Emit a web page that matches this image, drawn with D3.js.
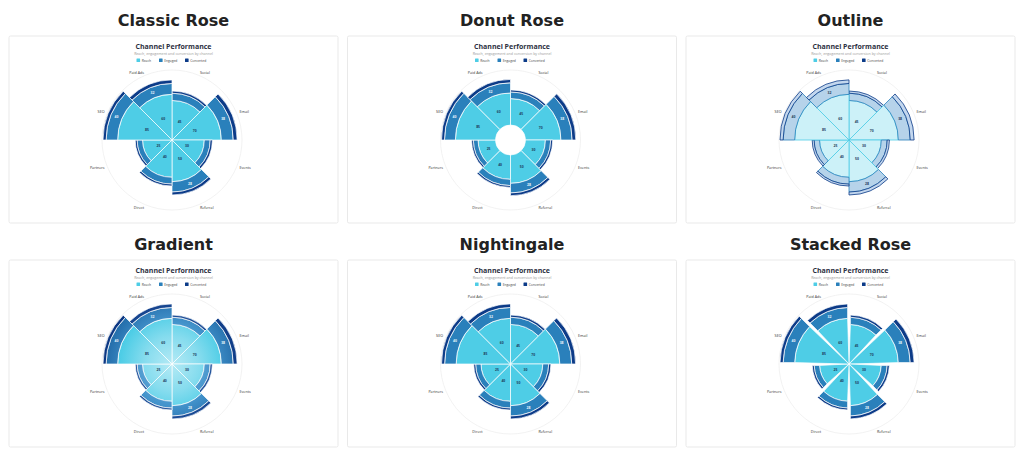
<!DOCTYPE html>
<html>
<head>
<meta charset="utf-8">
<script src="https://cdn.jsdelivr.net/npm/d3@7/dist/d3.min.js"></script>
<style>
  body { margin: 0; background: #fff; }
  svg { display: block; }
</style>
</head>
<body>
<div id="chart"></div>
<script>
// Chart data
const categories = ["Social", "Email", "Events", "Referral", "Direct", "Partners", "SEO", "Paid Ads"];
const reach = [45, 70, 30, 50, 40, 25, 85, 60];
const engaged = [18, 38, 12, 28, 16, 10, 40, 32];
const converted = [6, 14, 5, 9, 5, 4, 12, 12];
const seriesNames = ["Reach", "Engaged", "Converted"];
const panelTitles = ["Classic Rose", "Donut Rose", "Outline", "Gradient", "Nightingale", "Stacked Rose"];

const colors = ["#4ecde6", "#2a80bb", "#0c3b88"];
const outlineFill = ["#ccf1f8", "#b6d3ea", "#c3d7ee"];

const width = 1024, height = 457;
const svg = d3.select("#chart").append("svg")
    .attr("width", width)
    .attr("height", height);
const defs = svg.append("defs");

// stack the three series per category
const rows = categories.map((c, i) => ({cat: c, vals: [reach[i], engaged[i], converted[i]]}));
rows.forEach(d => {
    let acc = 0;
    d.layers = d.vals.map((v, k) => {
        const l = {k: k, v: v, y0: acc, y1: acc + v};
        acc += v;
        return l;
    });
    d.total = acc;
});
const maxTotal = d3.max(rows, d => d.total);

const x = d3.scaleBand()
    .domain(categories)
    .range([0, 2 * Math.PI]);

const cardW = 329, cardH = 187;

panelTitles.forEach((title, p) => {
    const col = p % 3, row = Math.floor(p / 3);
    const left = 9 + col * 338.5;
    const top = 36 + row * 224;
    const cx = left + cardW / 2;
    const chartX = cardW / 2 - 1.5, chartY = 104;

    // panel heading
    svg.append("text")
        .attr("x", cx)
        .attr("y", top - 10)
        .attr("text-anchor", "middle")
        .attr("font-family", "DejaVu Sans")
        .attr("font-weight", "bold")
        .attr("font-size", 16)
        .attr("fill", "#222")
        .text(title);

    const card = svg.append("g").attr("transform", "translate(" + left + "," + top + ")");
    card.append("rect")
        .attr("width", cardW)
        .attr("height", cardH)
        .attr("fill", "#fff")
        .attr("stroke", "#e3e3e3")
        .attr("stroke-width", 0.8)
        .attr("rx", 1.5);

    card.append("text")
        .attr("x", cardW / 2)
        .attr("y", 12.5)
        .attr("text-anchor", "middle")
        .attr("font-family", "Open Sans")
        .attr("font-weight", "bold")
        .attr("font-size", 7)
        .attr("fill", "#2d3142")
        .text("Channel Performance");

    card.append("text")
        .attr("x", cardW / 2)
        .attr("y", 19)
        .attr("text-anchor", "middle")
        .attr("font-family", "Open Sans")
        .attr("font-size", 3.6)
        .attr("fill", "#9a9a9a")
        .text("Reach, engagement and conversion by channel");

    // legend
    const legendX = [-37, -14.5, 11.5];
    seriesNames.forEach((s, k) => {
        const lg = card.append("g")
            .attr("transform", "translate(" + (cardW / 2 + legendX[k]) + ",22.5)");
        lg.append("rect")
            .attr("width", 3.6)
            .attr("height", 3.6)
            .attr("rx", 0.5)
            .attr("fill", colors[k]);
        lg.append("text")
            .attr("x", 5.2)
            .attr("y", 3)
            .attr("font-family", "Open Sans")
            .attr("font-size", 3.3)
            .attr("fill", "#444")
            .text(s);
    });

    const inner = title === "Donut Rose" ? 15 : 0;
    const outer = 69;
    const y = d3.scaleRadial()
        .domain([0, maxTotal])
        .range([inner, outer]);

    const g = card.append("g")
        .attr("transform", "translate(" + chartX + "," + chartY + ")");

    // grid circle
    g.append("circle")
        .attr("r", outer + 1)
        .attr("fill", "none")
        .attr("stroke", "#ececec")
        .attr("stroke-width", 0.7);

    // gradients for the gradient panel (user space of the chart group)
    if (title === "Gradient") {
        const stops = [
            [["0", "#b4eaf5"], ["0.4", "#86dcee"], ["0.75", "#4ecde6"], ["1", "#44c4de"]],
            [["0", "#7fb9e0"], ["0.6", "#4494cc"], ["1", "#1f68a6"]],
            [["0", "#3a6cb0"], ["0.8", "#1a4a94"], ["1", "#0a3581"]]
        ];
        stops.forEach((st, k) => {
            const grad = defs.append("radialGradient")
                .attr("id", "grad" + k)
                .attr("gradientUnits", "userSpaceOnUse")
                .attr("cx", 0)
                .attr("cy", 0)
                .attr("r", outer);
            st.forEach(s => grad.append("stop").attr("offset", s[0]).attr("stop-color", s[1]));
        });
    }

    const arc = d3.arc()
        .innerRadius(d => y(d.y0))
        .outerRadius(d => y(d.y1))
        .startAngle(d => x(d.cat))
        .endAngle(d => x(d.cat) + x.bandwidth());
    if (title === "Stacked Rose") arc.padAngle(0.04).padRadius(outer);

    const layerData = [];
    rows.forEach(d => d.layers.forEach(l => layerData.push(Object.assign({cat: d.cat}, l))));

    g.selectAll("path.seg")
        .data(layerData)
        .enter()
        .append("path")
        .attr("class", "seg")
        .attr("d", arc)
        .attr("fill", d => {
            if (title === "Outline") return outlineFill[d.k];
            if (title === "Gradient") return "url(#grad" + d.k + ")";
            return colors[d.k];
        })
        .attr("stroke", d => title === "Outline" ? colors[d.k] : "#fff")
        .attr("stroke-width", d => title === "Outline" ? 0.8 : 0.7)
        .attr("stroke-linejoin", "round");

    // value labels for reach and engaged
    const mid = d => x(d.cat) + x.bandwidth() / 2;
    g.selectAll("text.val")
        .data(layerData.filter(d => d.k < 2 && (d.k === 0 || y(d.y1) - y(d.y0) > 8)))
        .enter()
        .append("text")
        .attr("class", "val")
        .attr("transform", d => {
            const rr = (y(d.y0) + y(d.y1)) / 2;
            return "translate(" + (Math.sin(mid(d)) * rr) + "," + (-Math.cos(mid(d)) * rr) + ")";
        })
        .attr("text-anchor", "middle")
        .attr("dy", "0.35em")
        .attr("font-family", "Open Sans")
        .attr("font-weight", "bold")
        .attr("font-size", 3.4)
        .attr("fill", d => d.k === 0 ? "#1d3b5c" : (title === "Outline" ? "#1d3b5c" : "#e8f4fb"))
        .text(d => d.v);

    // category labels
    const labelAngle = c => x(c) + x.bandwidth() / 2;
    g.selectAll("text.cat")
        .data(categories)
        .enter()
        .append("text")
        .attr("class", "cat")
        .attr("x", c => Math.sin(labelAngle(c)) * 73)
        .attr("y", c => -Math.cos(labelAngle(c)) * 73)
        .attr("text-anchor", c => labelAngle(c) < Math.PI ? "start" : "end")
        .attr("dy", "0.35em")
        .attr("font-family", "Open Sans")
        .attr("font-size", 3.7)
        .attr("fill", "#333")
        .text(c => c);
});
</script>
</body>
</html>
